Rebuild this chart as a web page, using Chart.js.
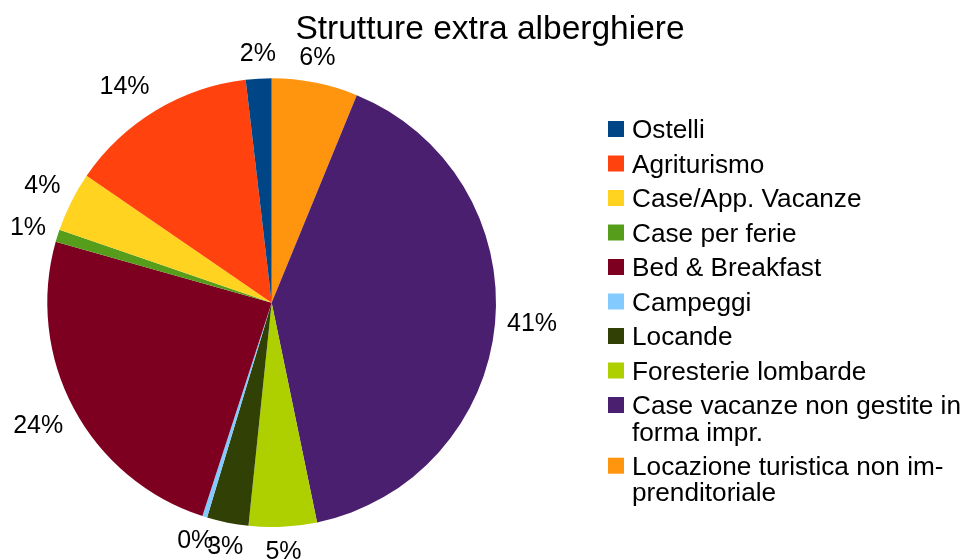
<!DOCTYPE html>
<html>
<head>
<meta charset="utf-8">
<script src="https://cdn.jsdelivr.net/npm/chart.js@4/dist/chart.umd.min.js"></script>
<style>
html,body{margin:0;padding:0;background:#fff;}
#wrap{position:relative;width:966px;height:559px;}
</style>
</head>
<body>
<div id="wrap"><canvas id="c"></canvas></div>
<script>
const chartTitle = "Strutture extra alberghiere";
const categories = ["Ostelli","Agriturismo","Case/App. Vacanze","Case per ferie","Bed & Breakfast","Campeggi","Locande","Foresterie lombarde","Case vacanze non gestite in forma impr.","Locazione turistica non imprenditoriale"];
const legendLabels = [["Ostelli"],["Agriturismo"],["Case/App. Vacanze"],["Case per ferie"],["Bed & Breakfast"],["Campeggi"],["Locande"],["Foresterie lombarde"],["Case vacanze non gestite in","forma impr."],["Locazione turistica non im-","prenditoriale"]];
const shares = [1.85, 13.6, 4.3, 0.9, 24.4, 0.35, 3.0, 4.9, 40.6, 6.2];
const colors = ["#004586","#ff420e","#ffd320","#579d1c","#7e0021","#83caff","#314004","#aecf00","#4b1f6f","#ff950e"];

const FONT = '"Liberation Sans", Arial, sans-serif';
const total = shares.reduce((a,b)=>a+b,0);

// LibreOffice draws counter-clockwise from 12 o'clock; Chart.js clockwise -> reverse order
const revLabels = categories.slice().reverse();
const revData = shares.slice().reverse();
const revColors = colors.slice().reverse();

function alignFactor(t) {
  const a = (Math.abs(t) - 0.2) / 0.3;
  return Math.max(0, Math.min(1, a)) * Math.sign(t);
}

const overlay = {
  id: 'overlay',
  afterDraw(chart) {
    const ctx = chart.ctx;
    ctx.save();
    // title
    ctx.fillStyle = '#000';
    ctx.font = '33.5px ' + FONT;
    ctx.textAlign = 'center';
    ctx.textBaseline = 'alphabetic';
    ctx.fillText(chartTitle, 490, 39);

    // percentage labels outside each slice
    const meta = chart.getDatasetMeta(0);
    ctx.font = '25px ' + FONT;
    ctx.textAlign = 'center';
    ctx.textBaseline = 'middle';
    meta.data.forEach((arc, i) => {
      const p = arc.getProps(['x','y','startAngle','endAngle','outerRadius'], true);
      const mid = (p.startAngle + p.endAngle) / 2;
      const dx = Math.cos(mid), dy = Math.sin(mid);
      const txt = Math.round(revData[i] / total * 100) + '%';
      const w = ctx.measureText(txt).width, h = 26;
      const ax = p.x + dx * (p.outerRadius + 12);
      const ay = p.y + dy * (p.outerRadius + 12);
      const cx = ax + alignFactor(dx) * w / 2;
      const cy = ay + alignFactor(dy) * h / 2;
      ctx.fillText(txt, cx, cy);
    });

    // legend
    ctx.textAlign = 'left';
    ctx.textBaseline = 'alphabetic';
    ctx.font = '26.2px ' + FONT;
    let top = 121;
    legendLabels.forEach((lines, i) => {
      ctx.fillStyle = colors[i];
      ctx.fillRect(608, top, 16, 16);
      ctx.fillStyle = '#000';
      lines.forEach((ln, j) => {
        ctx.fillText(ln, 632, top + 17 + j*26.5);
      });
      top += 34.5 + (lines.length - 1) * 26.2;
    });
    ctx.restore();
  }
};

new Chart(document.getElementById('c'), {
  type: 'pie',
  data: {
    labels: revLabels,
    datasets: [{
      data: revData,
      backgroundColor: revColors,
      borderWidth: 0,
      hoverOffset: 0,
      offset: 0
    }]
  },
  options: {
    responsive: true,
    maintainAspectRatio: false,
    animation: false,
    events: [],
    layout: { padding: { left: 47.3, right: 470, top: 78.3, bottom: 31.9 } },
    plugins: {
      legend: { display: false },
      title: { display: false },
      tooltip: { enabled: false }
    }
  },
  plugins: [overlay]
});
</script>
</body>
</html>
